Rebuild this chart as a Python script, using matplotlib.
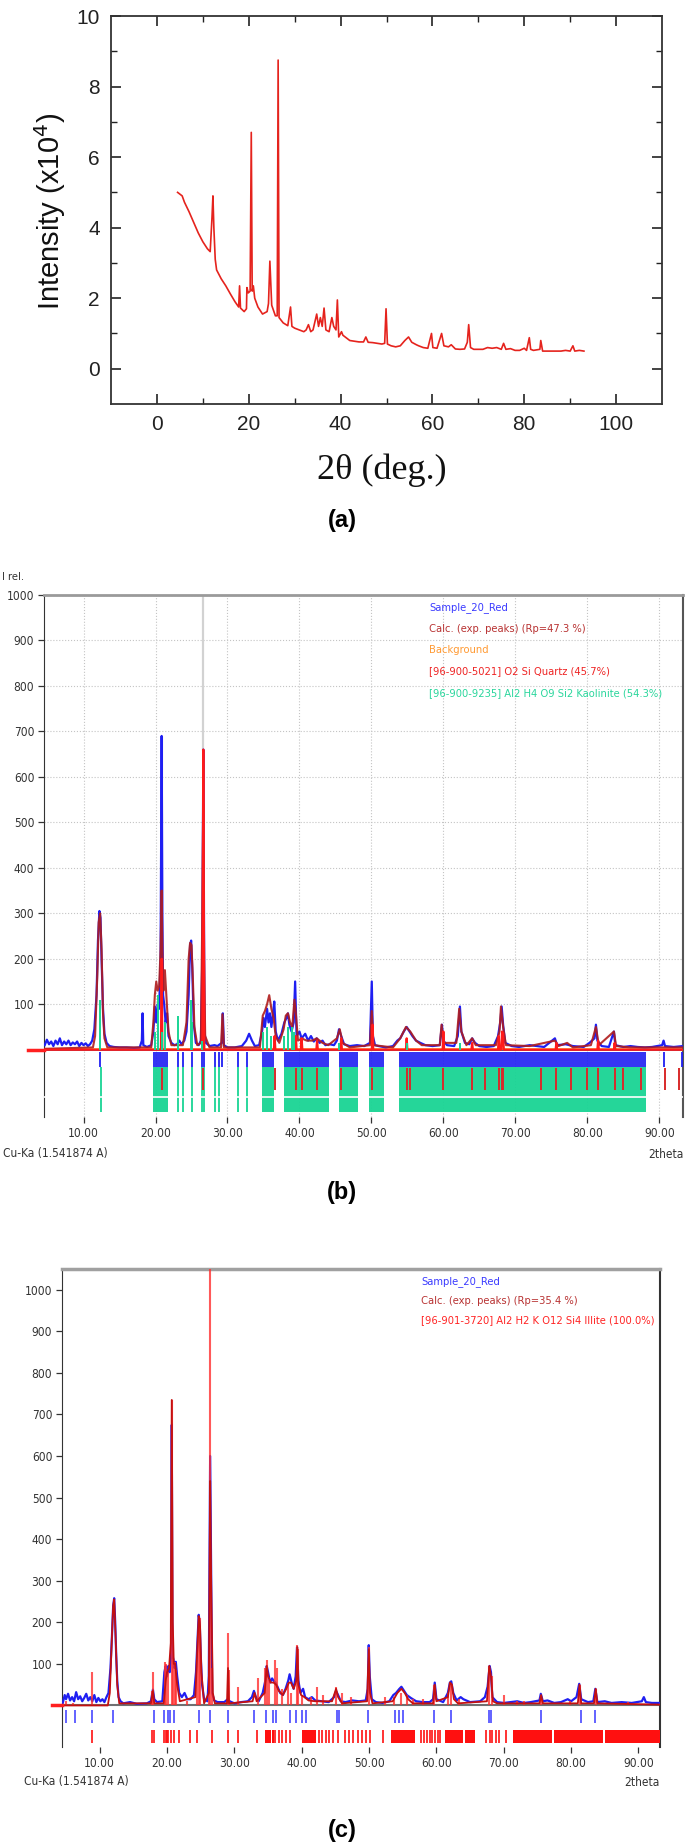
import matplotlib
matplotlib.use('Agg')
import matplotlib.pyplot as plt
from matplotlib import font_manager as fm

# ---------------- data ----------------
# (a) raw XRD pattern, intensity in units of 1e4
a_pts = [(4.5,5.0),(5,4.95),(5.5,4.9),(6,4.72),(7,4.45),(8,4.15),(9,3.85),(10,3.6),(11,3.4),(11.6,3.32),
         (12.0,4.3),(12.2,4.9),(12.4,4.0),(12.7,3.1),(13,2.8),(14,2.55),(15,2.35),(16,2.12),(17,1.9),(17.8,1.75),
         (18.0,2.35),(18.2,1.72),(19,1.62),(19.5,1.7),(19.6,2.3),(19.9,2.15),(20.3,2.2),(20.55,6.7),(20.75,2.2),
         (21.0,2.35),(21.3,2.0),(22,1.75),(23,1.55),(24,1.62),(24.3,1.85),(24.6,3.05),(25.0,1.8),(25.8,1.5),
         (26.2,1.5),(26.4,8.75),(26.6,1.45),(27.5,1.3),(28.5,1.22),(29.1,1.75),(29.4,1.2),(30,1.15),(31,1.1),
         (32,1.05),(32.5,1.1),(33,1.25),(33.5,1.05),(34,1.1),(34.8,1.55),(35.2,1.2),(35.6,1.45),(36.0,1.2),
         (36.4,1.72),(36.8,1.1),(37.5,1.05),(38.1,1.45),(38.5,1.2),(39.0,1.1),(39.3,1.95),(39.6,0.9),(40.2,1.05),
         (40.5,0.95),(41,0.9),(42,0.8),(43,0.78),(44,0.76),(45,0.76),(45.5,0.9),(46,0.75),(47,0.74),(48,0.72),
         (49,0.7),(49.6,0.72),(49.9,1.7),(50.2,0.7),(51,0.65),(52,0.62),(53,0.65),(54,0.8),(54.8,0.9),(55.5,0.75),
         (56.5,0.68),(57,0.65),(58,0.6),(59,0.58),(59.8,1.0),(60.1,0.6),(61,0.58),(62.0,1.0),(62.5,0.65),
         (63.5,0.62),(64.1,0.68),(65,0.56),(66,0.55),(67,0.56),(67.6,0.75),(67.9,1.25),(68.3,0.6),(69,0.55),
         (70,0.55),(71,0.55),(72,0.6),(73,0.58),(74,0.6),(75,0.55),(75.5,0.72),(76,0.55),(77,0.57),(78,0.52),
         (79,0.52),(80,0.58),(80.5,0.52),(81.1,0.88),(81.4,0.55),(82,0.52),(83.4,0.55),(83.6,0.8),(84,0.5),
         (85,0.5),(86,0.5),(87,0.5),(88,0.5),(89,0.52),(90,0.5),(90.6,0.65),(91,0.5),(92,0.52),(93,0.5)]

# (b) Match! pattern - quartz + kaolinite
b_meas = [(4.6,10),(4.9,22),(5.2,12),(5.5,18),(5.8,8),(6.1,20),(6.4,12),(6.7,25),(7.0,10),(7.3,18),(7.6,12),
          (7.9,20),(8.2,10),(8.5,16),(8.8,12),(9.1,18),(9.4,8),(9.7,15),(10.0,10),(10.3,14),(10.6,8),(10.9,12),
          (11.2,20),(11.5,45),(11.8,120),(12.0,240),(12.2,305),(12.35,290),(12.5,200),(12.7,90),(12.9,35),
          (13.2,15),(13.6,8),(14.2,6),(15,5),(16,5),(17,4),(17.8,5),(18.1,20),(18.2,80),(18.3,10),(18.8,6),
          (19.4,10),(19.7,40),(19.9,95),(20.1,60),(20.3,100),(20.5,90),(20.7,200),(20.85,690),(20.95,300),
          (21.05,120),(21.2,100),(21.4,60),(21.6,80),(21.8,30),(22.2,15),(22.6,10),(23.0,12),(23.3,20),(23.6,12),
          (24.0,20),(24.3,40),(24.6,120),(24.8,230),(24.95,240),(25.1,180),(25.3,60),(25.6,15),(26.0,10),
          (26.3,20),(26.5,200),(26.64,660),(26.8,40),(27.0,15),(27.5,8),(28.2,10),(28.6,8),(29.2,15),(29.35,80),
          (29.5,10),(30,5),(31,5),(32,8),(32.6,20),(33.0,35),(33.4,20),(33.8,8),(34.4,10),(34.8,40),(35.0,70),
          (35.2,50),(35.5,90),(35.7,60),(35.9,80),(36.1,50),(36.3,75),(36.5,106),(36.7,40),(37.0,20),(37.5,35),
          (37.9,60),(38.2,70),(38.4,80),(38.6,55),(38.9,40),(39.2,60),(39.4,150),(39.6,30),(40.0,40),(40.3,25),
          (40.8,35),(41.2,20),(41.6,30),(42.0,18),(42.4,25),(42.8,15),(43.2,20),(43.6,10),(44.2,12),(44.8,10),
          (45.2,20),(45.5,45),(45.8,30),(46.2,12),(47,8),(48,10),(49,8),(49.8,15),(50.05,150),(50.2,30),
          (50.5,10),(51,8),(52,5),(53,8),(53.6,20),(54,25),(54.5,40),(54.9,50),(55.3,40),(55.7,30),(56.2,20),
          (56.8,15),(57.5,10),(58.5,8),(59.5,10),(59.8,55),(60.0,20),(60.5,10),(61.5,8),(62.0,30),(62.3,95),
          (62.5,40),(63,15),(63.6,12),(64.0,25),(64.4,15),(65,8),(66,6),(67,8),(67.6,30),(67.9,60),(68.1,95),
          (68.3,55),(68.6,15),(69.5,8),(70.5,6),(72,10),(73,8),(74,6),(75.5,25),(75.8,10),(77,12),(78,8),
          (79.5,6),(80.3,15),(81.0,25),(81.2,55),(81.4,20),(82,8),(83,6),(83.7,40),(83.9,10),(85,6),(86,8),
          (87,6),(88,5),(89,6),(90.4,10),(90.6,20),(90.8,8),(92,6),(93.3,8)]
b_calc = [(4.6,2),(11.3,5),(11.6,30),(11.9,160),(12.1,280),(12.3,300),(12.5,220),(12.7,80),(12.9,25),(13.3,5),
          (19.4,5),(19.7,60),(19.9,120),(20.1,150),(20.3,130),(20.5,140),(20.7,220),(20.85,350),(20.95,220),
          (21.1,130),(21.3,175),(21.5,120),(21.8,40),(22.2,10),(23.8,10),(24.3,60),(24.6,200),(24.8,235),
          (25.0,230),(25.2,150),(25.4,50),(25.8,10),(26.3,15),(26.5,300),(26.62,540),(26.75,200),(26.9,30),
          (27.5,5),(29.1,5),(29.3,78),(29.5,5),(34.5,5),(34.9,75),(35.2,85),(35.5,100),(35.8,120),(36.1,90),
          (36.4,70),(36.7,30),(37.2,15),(37.8,45),(38.1,75),(38.4,80),(38.7,60),(39.0,50),(39.3,110),(39.5,80),
          (39.8,20),(40.3,25),(41,20),(41.8,20),(42.4,25),(43.2,15),(44,10),(45.2,25),(45.6,45),(46,15),(47,5),
          (49.8,10),(50.05,85),(50.3,10),(53,5),(54,25),(54.8,50),(55.4,40),(56.2,20),(57,10),(59.5,10),
          (59.75,55),(60.0,15),(61.8,15),(62.2,90),(62.5,40),(63.2,10),(64.0,25),(64.5,10),(67.3,10),(67.8,40),
          (68.0,95),(68.3,50),(68.7,10),(72,8),(75.5,20),(76,8),(77.2,15),(78,5),(80.5,10),(81.2,50),(81.6,10),
          (83.7,40),(84,8),(86,5),(93.3,5)]
b_background = [(4.5,2),(93.3,2)]
b_quartz = [(4.5,0),(20.75,0),(20.85,200),(20.95,0),(26.5,0),(26.64,660),(26.78,0),(36.45,0),(36.55,30),(36.65,0),
            (39.4,0),(39.5,30),(39.6,0),(40.2,0),(40.3,25),(40.4,0),(42.35,0),(42.45,20),(42.55,0),(45.7,0),
            (45.8,25),(45.9,0),(50.05,0),(50.15,55),(50.25,0),(54.8,0),(54.9,25),(55.0,0),(59.9,0),(60.0,40),
            (60.1,0),(63.9,0),(64.0,15),(64.1,0),(67.6,0),(67.7,30),(67.8,0),(68.05,0),(68.15,40),(68.3,35),
            (68.4,0),(75.6,0),(75.7,15),(75.8,0),(81.4,0),(81.5,20),(81.6,0),(83.7,0),(83.8,15),(83.9,0),(93.3,0)]
b_kaol_pos = [12.35, 19.9, 20.3, 20.85, 21.3, 23.1, 24.9, 25.1, 26.4, 35.0, 35.5, 36.0, 37.8, 38.4, 38.9, 39.3, 45.5, 55.0, 62.3]
b_kaol_int = [110, 40, 120, 40, 60, 75, 110, 60, 20, 40, 50, 30, 30, 50, 50, 40, 15, 15, 15]
b_gray_spike = [(20.85, 500, 685), (26.64, 660, 1000)]
b_row_blue_single = [12.3, 23.1, 23.8, 25.0, 26.4, 26.7, 28.2, 28.8, 29.2, 31.5, 32.7, 90.6, 93.2]
b_row_bands = [(19.7, 21.7), (34.8, 36.5), (37.9, 44.1), (45.5, 48.1), (49.6, 51.7), (53.8, 88.1)]
b_row_green_single = [12.4, 23.1, 23.8, 25.0, 26.4, 26.7, 28.2, 28.8, 31.5, 32.7]
b_row_red = [20.85, 26.65, 36.55, 39.5, 40.3, 42.45, 45.8, 50.15, 54.9, 55.3, 60.0, 64.0, 65.8, 67.7, 68.15,
             68.3, 73.5, 75.7, 77.7, 79.9, 81.5, 83.8, 84.95, 87.4, 90.85, 92.8]
b_legend = ['Sample_20_Red', 'Calc. (exp. peaks) (Rp=47.3 %)', 'Background',
            '[96-900-5021] O2 Si Quartz (45.7%)', '[96-900-9235] Al2 H4 O9 Si2 Kaolinite (54.3%)']

# (c) Match! pattern - illite
c_meas = [(4.5,5),(4.8,25),(5.0,15),(5.3,28),(5.6,12),(5.9,20),(6.2,10),(6.5,32),(6.8,15),(7.1,22),(7.4,10),
          (7.7,18),(8.0,28),(8.3,12),(8.6,20),(8.9,10),(9.2,25),(9.5,8),(9.8,18),(10.1,10),(10.4,15),(10.7,8),
          (11.0,20),(11.3,30),(11.6,90),(11.8,160),(12.0,240),(12.15,258),(12.3,200),(12.45,120),(12.6,60),
          (12.8,20),(13.1,10),(13.5,5),(14.5,8),(15.5,4),(17,5),(17.6,10),(17.9,38),(18.1,15),(18.5,8),(19.3,10),
          (19.6,80),(19.8,95),(20.0,70),(20.2,95),(20.4,80),(20.6,120),(20.7,675),(20.8,120),(20.95,110),
          (21.1,90),(21.3,105),(21.5,70),(21.8,30),(22.2,20),(22.6,30),(23.0,15),(23.5,15),(24.0,25),(24.3,80),
          (24.5,150),(24.7,218),(24.85,200),(25.0,120),(25.2,50),(25.5,15),(26.0,10),(26.2,70),(26.4,600),
          (26.55,300),(26.7,30),(27,12),(27.5,8),(28.5,8),(29.0,15),(29.3,10),(30,5),(31,8),(32,10),(32.6,20),
          (32.9,35),(33.2,20),(33.6,10),(34.2,30),(34.6,60),(34.8,95),(35.0,80),(35.3,55),(35.6,65),(35.8,60),
          (36.1,55),(36.4,45),(36.8,30),(37.2,25),(37.6,40),(38.0,60),(38.2,75),(38.5,55),(38.8,40),(39.1,70),
          (39.3,140),(39.5,60),(39.8,30),(40.2,40),(40.5,20),(41.0,15),(41.5,20),(42,12),(43,10),(44,8),
          (44.8,20),(45.1,35),(45.4,25),(45.8,10),(46.5,8),(47.5,12),(48.5,10),(49.5,12),(49.8,40),(49.95,145),
          (50.1,70),(50.4,15),(51,8),(52,6),(53,10),(53.6,25),(54.0,30),(54.5,40),(54.8,45),(55.2,35),(55.6,25),
          (56.2,18),(57,10),(58,8),(59,8),(59.5,15),(59.75,55),(60.0,15),(61,8),(61.7,30),(62.0,55),(62.2,58),
          (62.5,30),(63,12),(63.6,20),(64,15),(65,8),(66.5,10),(67.2,20),(67.6,45),(67.9,95),(68.1,80),
          (68.3,20),(69,8),(70,6),(71,8),(72,10),(73,6),(74,8),(75.3,12),(75.5,28),(75.8,10),(76.5,12),(77.5,6),
          (78.5,8),(79.5,15),(80.0,10),(80.8,20),(81.2,52),(81.5,15),(82.5,8),(83.3,10),(83.6,40),(83.9,8),
          (85,10),(86,6),(87.5,8),(89,6),(90.5,10),(90.8,20),(91.1,8),(92,6),(93.2,6)]
c_calc = [(4.5,0),(11.2,0),(11.5,30),(11.8,160),(12.0,240),(12.15,255),(12.35,170),(12.6,50),(12.9,5),(17.6,5),
          (17.9,35),(18.1,5),(19.5,5),(19.8,60),(20.0,80),(20.3,90),(20.55,150),(20.7,735),(20.85,200),
          (21.0,100),(21.2,100),(21.5,50),(21.9,10),(24.2,20),(24.5,140),(24.7,215),(24.9,190),(25.1,80),
          (25.5,5),(26.2,30),(26.4,540),(26.55,300),(26.8,30),(27.1,5),(28.9,5),(29.05,90),(29.2,5),(32.7,10),
          (33.0,30),(33.3,10),(34.5,30),(34.8,95),(35.0,70),(35.4,55),(35.8,55),(36.2,50),(36.6,35),(37.2,25),
          (37.7,40),(38.1,55),(38.4,55),(38.8,40),(39.2,60),(39.35,140),(39.5,50),(39.9,25),(40.4,20),(41,12),
          (42,10),(44.5,10),(45.1,40),(45.4,20),(46,5),(49.7,10),(49.95,135),(50.15,30),(50.5,5),(53.5,10),
          (54.2,30),(54.8,40),(55.3,30),(55.8,15),(56.5,5),(59.5,5),(59.75,50),(60.0,10),(61.7,20),(62.0,55),
          (62.3,50),(62.6,15),(63.2,5),(67.5,10),(67.85,95),(68.1,70),(68.4,10),(69,5),(75.3,5),(75.55,25),
          (75.8,5),(81.0,5),(81.25,50),(81.5,5),(83.4,5),(83.65,40),(83.9,5),(93.2,2)]
c_illite_pos = [5.0, 6.0, 8.85, 17.75, 17.9, 19.7, 19.9, 20.1, 20.7, 20.9, 21.15, 21.3, 23.0, 24.5, 24.7, 24.9,
                26.2, 26.45, 26.6, 29.0, 29.2, 30.6, 33.5, 34.6, 34.9, 35.1, 36.1, 36.3, 37.1, 38.0, 38.4, 39.3,
                39.45, 40.0, 41.4, 42.2, 43.1, 45.1, 46.0, 47.3, 49.95, 52.4, 53.7, 54.8, 55.6, 56.5, 58.0, 59.7,
                61.7, 62.1, 63.3, 67.85, 68.2, 70.1, 71.9, 73.0, 75.6, 79.9, 81.3, 83.7, 88.5]
c_illite_int = [10, 5, 80, 35, 80, 105, 100, 80, 735, 110, 105, 85, 10, 110, 200, 210, 70, 1050, 90, 175, 85,
                45, 65, 90, 110, 60, 110, 90, 40, 55, 30, 145, 135, 25, 20, 45, 25, 45, 30, 20, 140, 20, 20, 30,
                25, 15, 15, 50, 30, 55, 15, 95, 70, 25, 10, 10, 20, 10, 50, 40, 8]
c_row_blue = [5.0, 6.4, 8.8, 12.0, 18.1, 19.6, 20.1, 20.5, 21.0, 24.7, 26.4, 29.1, 32.9, 34.7, 35.8, 36.2, 38.2,
              39.2, 40.0, 40.6, 45.3, 45.6, 49.9, 53.9, 54.4, 55.1, 59.7, 62.1, 67.8, 68.1, 75.5, 81.4, 83.6]
c_row_red_single = [8.8, 17.8, 18.0, 19.6, 19.8, 20.0, 20.1, 20.6, 21.0, 21.7, 23.4, 24.4, 26.7, 29.1, 30.5,
                    33.4, 36.1, 36.6, 37.1, 37.6, 38.2, 42.5, 43.0, 43.6, 44.1, 44.6, 45.4, 46.4, 47.0, 47.6,
                    48.3, 49.0, 49.5, 50.1, 52.0, 57.7, 58.2, 58.6, 59.0, 59.4, 59.8, 60.3, 60.6, 67.4, 67.9,
                    68.3, 68.8, 69.3, 70.3]
c_row_red_bands = [(34.5, 35.5), (35.6, 35.9), (40.0, 42.1), (53.2, 56.8), (61.2, 63.9), (64.3, 65.7),
                   (71.4, 77.2), (77.4, 84.7), (85.0, 93.2)]
c_legend = ['Sample_20_Red', 'Calc. (exp. peaks) (Rp=35.4 %)', '[96-901-3720] Al2 H2 K O12 Si4 Illite (100.0%)']

# ---------------- helpers ----------------
W, H = 685, 1846


def has_font(name):
    try:
        fm.findfont(fm.FontProperties(family=name), fallback_to_default=False)
        return True
    except Exception:
        return False


SANS = 'Liberation Sans' if has_font('Liberation Sans') else 'DejaVu Sans'
SERIF = 'Liberation Serif' if has_font('Liberation Serif') else 'DejaVu Serif'
plt.rcParams['font.family'] = [SANS, 'DejaVu Sans']

# narrow font for the Match! panels
NARROW_FP = None
try:
    p = fm.findfont(fm.FontProperties(family='DejaVu Sans', stretch='condensed'), fallback_to_default=False)
    if 'ondensed' in p:
        NARROW_FP = p
except Exception:
    pass


def nfont(size):
    if NARROW_FP:
        return fm.FontProperties(fname=NARROW_FP, size=size)
    return fm.FontProperties(family=SANS, size=size * 0.9)


fig = plt.figure(figsize=(W / 100, H / 100), dpi=100)


def box(l, t, r, b):
    return [l / W, 1 - b / H, (r - l) / W, (b - t) / H]


def ftxt(x, y, s, **kw):
    fig.text(x / W, 1 - y / H, s, **kw)


def xy(pts):
    return [p[0] for p in pts], [p[1] for p in pts]


BLUE = '#1f1ff2'
CALC = '#b01c1c'
QRED = '#ff1a1a'
GREEN = '#19d494'
ORANGE = '#ff9a33'
LAB = 8.6      # tick / axis text size (Match! panels)
LEG = 8.0      # legend text size (Match! panels)

# ---------------- panel (a) ----------------
axa = fig.add_axes(box(111, 16, 662, 404))
ax_x, ax_y = xy(a_pts)
axa.plot(ax_x, ax_y, color='#e5231d', lw=1.2)
axa.set_xlim(-10, 110)
axa.set_ylim(-1, 10)
axa.set_xticks([0, 20, 40, 60, 80, 100])
axa.set_xticks([10, 30, 50, 70, 90], minor=True)
axa.set_yticks([0, 2, 4, 6, 8, 10])
axa.set_yticks([1, 3, 5, 7, 9], minor=True)
axa.tick_params(which='both', direction='in', top=True, right=True, labelsize=15, colors='#222222')
axa.tick_params(which='major', length=7, width=1.2, pad=8)
axa.tick_params(which='minor', length=4, width=1.0)
for s in axa.spines.values():
    s.set_linewidth(1.3)
    s.set_color('#333333')
ftxt(50, 211, r'Intensity (x10$^4$)', rotation=90, ha='center', va='center', fontsize=21, color='#111111')
ftxt(382, 470, '2θ (deg.)', ha='center', va='center', fontsize=26, family=SERIF, color='#111111')
ftxt(342, 521, '(a)', ha='center', va='center', fontsize=17, fontweight='bold')

# ---------------- panel (b) ----------------
axb = fig.add_axes(box(44, 595, 683, 1117))
axb.set_xlim(4.5, 93.3)
axb.set_ylim(-148, 1000)
axb.set_xticks(range(10, 100, 10))
axb.set_xticklabels(['%.2f' % v for v in range(10, 100, 10)])
axb.set_yticks(range(100, 1001, 100))
axb.grid(True, ls=':', color='#c4c4c4', lw=0.8, zorder=0)
axb.set_axisbelow(True)
axb.tick_params(axis='both', colors='#333333', length=4, width=0.9, pad=3)
for lab in axb.get_xticklabels() + axb.get_yticklabels():
    lab.set_fontproperties(nfont(LAB))
axb.spines['bottom'].set_visible(False)
axb.spines['top'].set_color('#9a9a9a')
axb.spines['top'].set_linewidth(2)
axb.spines['left'].set_color('#333333')
axb.spines['right'].set_color('#555555')
axb.spines['right'].set_linewidth(1.5)

axb.axhline(0, color='#4a4a7a', lw=1.3, zorder=2)
bx, by = xy(b_background)
axb.plot(bx, by, color=ORANGE, lw=1.2, zorder=2)
axb.plot([2.3, 4.5], [0, 0], color='#ff2020', lw=2.5, clip_on=False, zorder=6)
for x0, y0, y1 in b_gray_spike:
    axb.plot([x0, x0], [y0, y1], color='#d2d2d2', lw=1.6, zorder=2)
mx, my = xy(b_meas)
axb.plot(mx, my, color=BLUE, lw=1.6, zorder=3)
cx, cy = xy(b_calc)
axb.plot(cx, cy, color=CALC, lw=1.5, alpha=0.9, zorder=4)
qx, qy = xy(b_quartz)
axb.plot(qx, qy, color=QRED, lw=1.6, zorder=5)
axb.vlines(b_kaol_pos, 0, b_kaol_int, color=GREEN, lw=1.4, zorder=5)
# reflection rows
axb.vlines(b_row_blue_single, -38, -4, color=BLUE, lw=1.3, zorder=3)
axb.broken_barh([(a, b - a) for a, b in b_row_bands], (-38, 34), facecolors=BLUE, alpha=0.9, zorder=3)
axb.vlines(b_row_green_single, -138, -38, color=GREEN, lw=1.3, zorder=3)
axb.broken_barh([(a, b - a) for a, b in b_row_bands], (-138, 100), facecolors=GREEN, alpha=0.95, zorder=3)
axb.axhline(-105, xmin=0, xmax=1, color='white', lw=1.2, zorder=4)
axb.vlines(b_row_red, -88, -40, color='#d82a2a', lw=1.4, zorder=5)
for i, (t, col) in enumerate(zip(b_legend, ['#3a3aff', '#b83232', ORANGE, '#ee2424', '#2ad69c'])):
    axb.text(58, 973 - i * 47, t, color=col, fontproperties=nfont(LEG), va='center', ha='left')
ftxt(2, 577, 'I rel.', fontproperties=nfont(8), color='#333333', va='center', ha='left')
ftxt(3, 1154, 'Cu-Ka (1.541874 A)', fontproperties=nfont(LAB), color='#333333', va='center', ha='left')
ftxt(684, 1154, '2theta', fontproperties=nfont(LAB), color='#333333', va='center', ha='right')
ftxt(342, 1192, '(b)', ha='center', va='center', fontsize=17, fontweight='bold')

# ---------------- panel (c) ----------------
axc = fig.add_axes(box(62, 1269, 660, 1747))
axc.set_xlim(4.4, 93.2)
axc.set_ylim(-100, 1050)
axc.set_xticks(range(10, 100, 10))
axc.set_xticklabels(['%.2f' % v for v in range(10, 100, 10)])
axc.set_yticks(range(100, 1001, 100))
axc.tick_params(axis='both', colors='#333333', length=4, width=0.9, pad=3)
for lab in axc.get_xticklabels() + axc.get_yticklabels():
    lab.set_fontproperties(nfont(LAB))
axc.spines['bottom'].set_visible(False)
axc.spines['top'].set_color('#a0a0a0')
axc.spines['top'].set_linewidth(2.5)
axc.spines['left'].set_color('#333333')
axc.spines['right'].set_color('#333333')
axc.spines['right'].set_linewidth(1.5)

axc.axhline(0, color='#707070', lw=1.5, zorder=2)
axc.plot([2.9, 4.4], [0, 0], color='#ff2020', lw=2.5, clip_on=False, zorder=6)
mx, my = xy(c_meas)
axc.plot(mx, my, color=BLUE, lw=1.6, zorder=3)
axc.vlines(c_illite_pos, 0, c_illite_int, color='#ff3030', lw=1.5, alpha=0.8, zorder=4)
cx, cy = xy(c_calc)
axc.plot(cx, cy, color='#c41010', lw=1.3, zorder=5)
axc.vlines(c_row_blue, -42, -10, color='#4848ff', lw=1.2, zorder=3)
axc.vlines(c_row_red_single, -91, -60, color='#ff1010', lw=1.2, zorder=3)
axc.broken_barh([(a, b - a) for a, b in c_row_red_bands], (-91, 31), facecolors='#ff1010', zorder=3)
for i, (t, col) in enumerate(zip(c_legend, ['#3a3aff', '#b83232', '#ff2424'])):
    axc.text(57.7, 1020 - i * 47, t, color=col, fontproperties=nfont(LEG), va='center', ha='left')
ftxt(24, 1782, 'Cu-Ka (1.541874 A)', fontproperties=nfont(LAB), color='#333333', va='center', ha='left')
ftxt(660, 1782, '2theta', fontproperties=nfont(LAB), color='#333333', va='center', ha='right')
ftxt(342, 1830, '(c)', ha='center', va='center', fontsize=17, fontweight='bold')

fig.savefig('out.png', dpi=100)
